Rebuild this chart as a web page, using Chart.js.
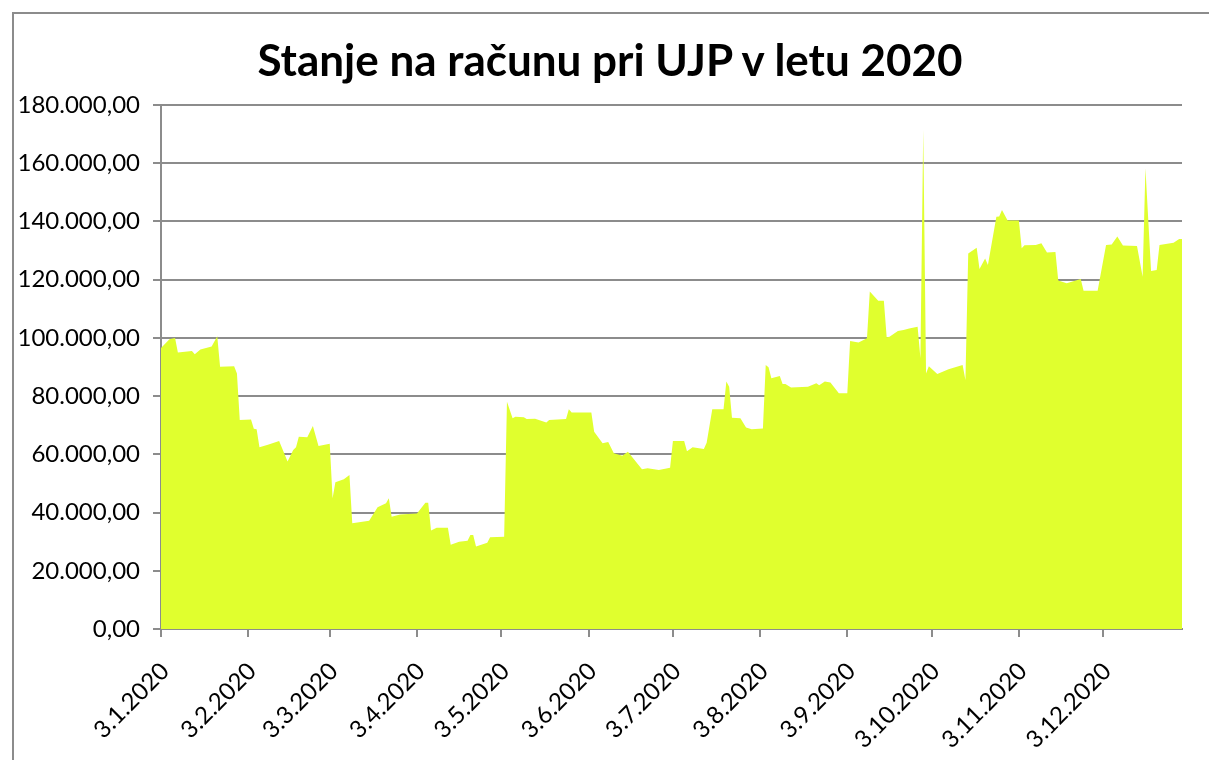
<!DOCTYPE html>
<html>
<head>
    <meta charset="utf-8">
    <title>Stanje na računu pri UJP</title>
    <script src="https://cdn.jsdelivr.net/npm/chart.js"></script>
    <style>
        body { margin: 0; background: #fff; overflow: hidden; font-family: Lato, "Open Sans", sans-serif; }
        .frame {
            position: absolute; left: 12px; top: 12px; width: 1300px; height: 900px;
            border-left: 2px solid #8c8c8c; border-top: 2px solid #8c8c8c;
        }
        /* title sits over the whole chart frame, like the spreadsheet does it */
        .chart-title {
            position: absolute; left: 0; top: 33px; width: 1220px;
            text-align: center; font-size: 44px; font-weight: bold; line-height: 1.2; color: #000;
        }
        #balanceChart { position: absolute; left: 0; top: 0; }
    </style>
</head>
<body>
    <div class="frame"></div>
    <canvas id="balanceChart" width="1209" height="760"></canvas>
    <div class="chart-title">Stanje na računu pri UJP v letu 2020</div>

    <script>
        // daily balance readings (d.m), only the days where the line changes
        const dates = [
            '3.1','6.1','8.1','9.1','14.1','15.1','17.1','21.1','23.1','24.1','29.1','30.1','31.1',
            '4.2','5.2','6.2','7.2','10.2','14.2','17.2','19.2','20.2','21.2','24.2','26.2','28.2',
            '3.3','4.3','5.3','8.3','10.3','11.3','17.3','20.3','23.3','24.3','25.3','28.3',
            '3.4','6.4','7.4','8.4','10.4','14.4','15.4','18.4','21.4','22.4','23.4','24.4','28.4','29.4',
            '4.5','5.5','7.5','8.5','11.5','12.5','15.5','19.5','20.5','26.5','27.5','28.5',
            '4.6','5.6','8.6','10.6','12.6','15.6','17.6','22.6','24.6','28.6',
            '2.7','3.7','7.7','8.7','10.7','14.7','15.7','17.7','21.7','22.7','23.7','24.7','27.7','29.7','31.7',
            '4.8','5.8','6.8','7.8','10.8','11.8','12.8','14.8','20.8','23.8','24.8','26.8','28.8','31.8',
            '3.9','4.9','7.9','10.9','11.9','14.9','16.9','17.9','18.9','21.9','23.9','25.9','28.9','29.9','30.9',
            '1.10','2.10','5.10','9.10','14.10','15.10','16.10','19.10','20.10','22.10','23.10','26.10','27.10','28.10','30.10',
            '3.11','4.11','5.11','9.11','11.11','13.11','16.11','17.11','20.11','25.11','26.11',
            '1.12','4.12','6.12','8.12','10.12','15.12','17.12','18.12','20.12','22.12','23.12','28.12','30.12','31.12'
        ];
        const balances = [
            96500,99500,100000,95000,95500,94400,96000,97000,100600,90100,90300,87800,71800,
            72000,68800,68600,62400,63300,64600,57500,61500,62400,66000,65900,69700,62900,
            63600,44900,50400,51400,52900,36300,37200,41800,43200,44900,38600,39300,
            39700,43400,43400,33800,34800,34800,28900,30000,30300,32300,32300,28300,29600,31500,
            31700,78100,72400,72900,72700,72100,72200,70900,71800,72100,75500,74400,
            74400,67800,63800,64200,60400,59500,60900,54900,55200,54600,
            55400,64600,64600,61100,62400,61800,64000,75500,75500,85000,83200,72600,72400,69200,68600,
            68900,90700,89900,86100,86900,84200,84200,83000,83200,84400,83700,85000,84700,81000,
            81000,98900,98400,99900,115900,112800,112800,100200,100400,102400,102700,103200,103800,93000,171400,
            87800,90300,87600,89200,90700,85500,129000,131000,123700,127300,125000,141600,141700,143900,140300,
            140300,130800,131800,131900,132500,129300,129500,119700,118800,120200,116200,
            116200,131900,132100,134800,131700,131600,121000,158300,123000,123300,131900,132700,134000,134000
        ];
        const tickLabels = [
            '3.1.2020','3.2.2020','3.3.2020','3.4.2020','3.5.2020','3.6.2020',
            '3.7.2020','3.8.2020','3.9.2020','3.10.2020','3.11.2020','3.12.2020'
        ];

        // "d.m" or "d.m.yyyy" -> timestamp, so the x axis keeps real day spacing
        function toTime(s) {
            const p = s.split('.');
            return Date.UTC(2020, Number(p[1]) - 1, Number(p[0]));
        }

        // 180000 -> "180.000,00"
        function formatEur(v) {
            const parts = v.toFixed(2).split('.');
            return parts[0].replace(/\B(?=(\d{3})+(?!\d))/g, '.') + ',' + parts[1];
        }

        const gray = '#8c8c8c';
        const font = 'Lato, "Open Sans", sans-serif';

        new Chart(document.getElementById('balanceChart'), {
            type: 'line',
            data: {
                datasets: [{
                    label: 'Stanje',
                    data: dates.map((d, i) => ({ x: toTime(d), y: balances[i] })),
                    fill: 'origin',
                    backgroundColor: '#e0ff2e',
                    borderWidth: 0,
                    pointRadius: 0,
                    tension: 0
                }]
            },
            options: {
                responsive: false,
                animation: false,
                devicePixelRatio: 1,
                layout: { padding: { left: 0, right: 27, top: 105, bottom: 0 } },
                plugins: {
                    legend: { display: false },
                    tooltip: { enabled: false },
                    title: { display: false }
                },
                scales: {
                    x: {
                        type: 'linear',
                        min: toTime('3.1'),
                        max: toTime('31.12'),
                        afterBuildTicks: scale => {
                            scale.ticks = tickLabels.map(t => ({ value: toTime(t) }));
                        },
                        afterFit: scale => { scale.height = 131; },
                        ticks: {
                            callback: (value, index) => tickLabels[index],
                            minRotation: 45,
                            maxRotation: 45,
                            color: '#000',
                            font: { family: font, size: 24 },
                            padding: 20,
                            labelOffset: 4
                        },
                        grid: { drawOnChartArea: false, color: gray, lineWidth: 2, tickLength: 8 },
                        border: { color: gray, width: 2 }
                    },
                    y: {
                        min: 0,
                        max: 180000,
                        afterFit: scale => { scale.width = 161; },
                        ticks: {
                            stepSize: 20000,
                            callback: v => formatEur(v),
                            color: '#000',
                            font: { family: font, size: 24 },
                            padding: 13
                        },
                        grid: { color: gray, lineWidth: 2, tickLength: 8 },
                        border: { color: gray, width: 2 }
                    }
                }
            }
        });
    </script>
</body>
</html>
